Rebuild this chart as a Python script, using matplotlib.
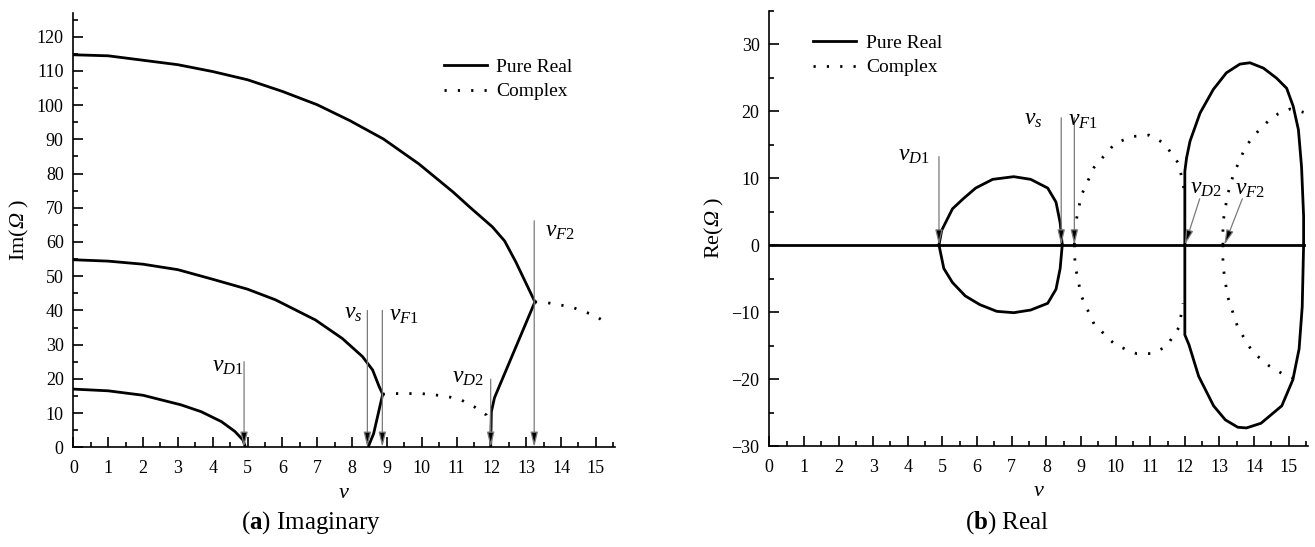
import matplotlib
matplotlib.use("Agg")
import matplotlib.pyplot as plt
from matplotlib.ticker import MultipleLocator
from matplotlib.lines import Line2D

plt.rcParams['font.family'] = ['Liberation Serif', 'DejaVu Serif']
plt.rcParams['mathtext.fontset'] = 'custom'
plt.rcParams['mathtext.rm'] = 'Liberation Serif'
plt.rcParams['mathtext.it'] = 'Liberation Serif:italic'
plt.rcParams['mathtext.bf'] = 'Liberation Serif:bold'
plt.rcParams['mathtext.sf'] = 'Liberation Serif:italic'

# ---------------- (a) Imaginary part ----------------
im_v1 = [0, 1, 2, 3.09, 3.67, 4.25, 4.64, 4.87, 4.94]
im_y1 = [17.0, 16.5, 15.2, 12.4, 10.4, 7.5, 4.6, 2.1, 0]

im_v2 = [0, 1, 2, 3, 4, 5, 5.8, 6.95, 7.72, 8.3, 8.59, 8.78, 8.88, 8.62, 8.46]
im_y2 = [54.8, 54.4, 53.5, 51.9, 49.1, 46.2, 43.1, 37.2, 31.8, 26.5, 22.6, 17.7, 15.5, 4.0, 0]

im_v3 = [0, 1, 2, 3, 4, 5, 6, 7, 7.93, 8.9, 9.92, 10.9, 11.4, 12.03, 12.38, 12.7, 13.25,
         12.09, 12.0, 11.98]
im_y3 = [114.7, 114.4, 113.1, 111.8, 109.8, 107.4, 104.0, 100.1, 95.5, 90.1, 82.8, 74.6, 70.0,
         64.4, 60.3, 54.2, 42.5, 14.5, 10.4, 0]

im_cv1 = [8.88, 9.24, 9.98, 10.66, 11.1, 11.5, 11.86, 11.98]
im_cy1 = [15.5, 15.7, 15.7, 15.0, 14.0, 11.9, 9.4, 6.3]

im_cv2 = [13.25, 13.63, 14.3, 15.0, 15.34]
im_cy2 = [42.5, 42.2, 41.0, 38.4, 35.9]

# annotations: (label, x_arrow, y_top, label_x, label_y, ha)
im_marks = [
    (r"$v_{D1}$", 4.9, 25.0, 4.88, 23.5, "right"),
    (r"$v_{s}$", 8.44, 40.0, 8.3, 39.0, "right"),
    (r"$v_{F1}$", 8.87, 40.0, 9.05, 38.5, "left"),
    (r"$v_{D2}$", 11.98, 19.9, 11.78, 20.5, "right"),
    (r"$v_{F2}$", 13.23, 66.2, 13.55, 63.0, "left"),
]

# ---------------- (b) Real part ----------------
re_zero_v = [0, 15.43]
re_zero_y = [0, 0]

re_l1u_v = [4.9, 4.98, 5.29, 5.6, 5.96, 6.45, 7.06, 7.55, 8.04, 8.28, 8.4, 8.46]
re_l1u_y = [0, 2.2, 5.4, 6.9, 8.5, 9.8, 10.2, 9.8, 8.5, 6.4, 3.3, 0]
re_l1l_v = [4.9, 5.04, 5.29, 5.66, 6.08, 6.57, 7.06, 7.55, 8.04, 8.28, 8.4, 8.46]
re_l1l_y = [0, -3.5, -5.6, -7.6, -8.9, -9.9, -10.1, -9.7, -8.7, -6.6, -3.5, 0]

re_l2u_v = [8.81, 8.83, 9.01, 9.38, 9.99, 10.5, 10.97, 11.4, 11.83, 11.97]
re_l2u_y = [0, 2.8, 7.4, 11.6, 15.2, 16.2, 16.4, 15.2, 12.1, 8.5]
re_l2l_v = [8.81, 8.83, 9.01, 9.38, 9.99, 10.6, 11.03, 11.46, 11.83, 11.95]
re_l2l_y = [0, -3.0, -7.6, -11.8, -14.9, -16.2, -16.2, -15.2, -12.3, -8.7]

re_l3u_v = [12.0, 12.0, 12.05, 12.15, 12.44, 12.82, 13.2, 13.59, 13.88, 14.27, 14.65, 14.94,
            15.13, 15.28, 15.37, 15.43, 15.43]
re_l3u_y = [0, 11.0, 13.0, 15.5, 19.7, 23.2, 25.7, 27.0, 27.2, 26.4, 24.9, 23.4,
            20.7, 17.2, 11.7, 4.3, 0]
re_l3l_v = [12.0, 12.0, 12.12, 12.4, 12.83, 13.17, 13.53, 13.78, 14.2, 14.8, 15.12, 15.3, 15.39, 15.43]
re_l3l_y = [0, -13.4, -14.9, -19.6, -24.0, -26.1, -27.2, -27.3, -26.6, -24.0, -20.1, -15.5, -9.2, 0]

re_l4u_v = [13.1, 13.1, 13.23, 13.4, 13.59, 13.74, 13.93, 14.17, 14.41, 14.7, 15.04, 15.37, 15.43]
re_l4u_y = [0, 3.3, 7.4, 10.5, 12.7, 14.5, 15.9, 17.3, 18.5, 19.6, 20.3, 19.9, 19.8]
re_l4l_v = [13.1, 13.1, 13.23, 13.53, 13.96, 14.45, 14.88, 15.24, 15.43]
re_l4l_y = [0, -3.0, -7.6, -12.3, -16.0, -18.1, -19.4, -20.1, -20.0]

# (label, x_tail, y_tail, x_head, y_head, label_x, label_y, ha)
re_marks = [
    (r"$v_{D1}$", 4.9, 13.2, 4.9, 0, 4.62, 13.3, "right"),
    (r"$v_{s}$", 8.43, 19.0, 8.43, 0, 7.88, 18.8, "right"),
    (r"$v_{F1}$", 8.81, 19.0, 8.81, 0, 8.62, 18.6, "left"),
    (r"$v_{D2}$", 12.43, 6.9, 12.0, 0, 12.15, 8.5, "left"),
    (r"$v_{F2}$", 13.66, 6.9, 13.14, 0, 13.45, 8.3, "left"),
]

legend_labels = ["Pure Real", "Complex"]

LW = 2.0
DOT = (0, (0.8, 4.0))
ARROW = dict(arrowstyle='-|>,head_length=0.9,head_width=0.22', fc='black', ec='#7a7a7a',
             lw=0.9, shrinkA=0, shrinkB=0)

fig = plt.figure(figsize=(13.15, 5.47), dpi=100)
axa = fig.add_axes([0.0558, 0.1823, 0.4119, 0.7945])
axb = fig.add_axes([0.585, 0.1846, 0.4095, 0.7962])

for ax in (axa, axb):
    for s in ("top", "right"):
        ax.spines[s].set_visible(False)
    for s in ("left", "bottom"):
        ax.spines[s].set_linewidth(1.2)
    ax.tick_params(which='major', direction='in', length=7, width=1.2, labelsize=13)
    ax.tick_params(axis='x', which='major', pad=9)
    ax.tick_params(axis='y', which='major', pad=7)
    ax.tick_params(which='minor', direction='in', length=3.5, width=1.2)
    ax.xaxis.set_major_locator(MultipleLocator(1))
    ax.xaxis.set_minor_locator(MultipleLocator(0.5))
    ax.yaxis.set_major_locator(MultipleLocator(10))
    ax.yaxis.set_minor_locator(MultipleLocator(5))
    ax.set_xlim(0, 15.55)
    ax.set_xlabel(r"$v$", fontsize=16, labelpad=5)

# (a)
axa.set_ylim(0, 127)
axa.set_yticks(range(0, 121, 10))
axa.plot(im_v1, im_y1, 'k-', lw=LW)
axa.plot(im_v2, im_y2, 'k-', lw=LW)
axa.plot(im_v3, im_y3, 'k-', lw=LW)
axa.plot(im_cv1, im_cy1, color='k', ls=DOT, lw=LW)
axa.plot(im_cv2, im_cy2, color='k', ls=DOT, lw=LW)
for lab, xa, yt, lx, ly, ha in im_marks:
    axa.annotate("", xy=(xa, 0), xytext=(xa, yt), arrowprops=ARROW)
    axa.text(lx, ly, lab, fontsize=17, ha=ha, va='center')
axa.set_ylabel(r"Im($\mathsf{\Omega}$ )", fontsize=16, labelpad=4)

# (b)
axb.set_ylim(-30, 35)
axb.set_yticks(range(-30, 31, 10))
axb.plot(re_zero_v, re_zero_y, 'k-', lw=LW)
for v, y in ((re_l1u_v, re_l1u_y), (re_l1l_v, re_l1l_y), (re_l3u_v, re_l3u_y), (re_l3l_v, re_l3l_y)):
    axb.plot(v, y, 'k-', lw=LW)
for v, y in ((re_l2u_v, re_l2u_y), (re_l2l_v, re_l2l_y), (re_l4u_v, re_l4u_y), (re_l4l_v, re_l4l_y)):
    axb.plot(v, y, color='k', ls=DOT, lw=LW)
for lab, xt, yt, xh, yh, lx, ly, ha in re_marks:
    axb.annotate("", xy=(xh, yh), xytext=(xt, yt), arrowprops=ARROW)
    axb.text(lx, ly, lab, fontsize=17, ha=ha, va='center')
axb.set_ylabel(r"Re($\mathsf{\Omega}$ )", fontsize=16, labelpad=4)

handles = [Line2D([], [], color='k', lw=LW), Line2D([], [], color='k', ls=DOT, lw=LW)]
for ax, anchor in ((axa, (0.684, 0.895)), (axb, (0.082, 0.945))):
    ax.legend(handles, legend_labels, loc='upper left', bbox_to_anchor=anchor, frameon=False,
              fontsize=14, handlelength=2.2, handletextpad=0.5, labelspacing=0.35,
              borderpad=0, borderaxespad=0)

fig.text(0.2365, 0.044, r"($\mathbf{a}$) Imaginary", fontsize=18, ha='center', va='center')
fig.text(0.766, 0.044, r"($\mathbf{b}$) Real", fontsize=18, ha='center', va='center')

fig.savefig("out.png", dpi=100)
